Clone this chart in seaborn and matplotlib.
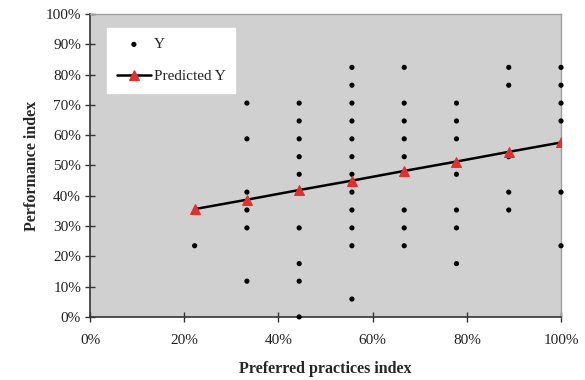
import pandas as pd
import matplotlib
matplotlib.use("Agg")
import matplotlib.pyplot as plt
import seaborn as sns
from matplotlib.ticker import PercentFormatter

# x positions (preferred practices index, %)
x_levels = [22.2, 33.3, 44.4, 55.6, 66.7, 77.8, 88.9, 100.0]

# observed performance index (%) at each x level
y_obs = {
    22.2: [23.5],
    33.3: [70.6, 58.8, 41.2, 35.3, 29.4, 11.8],
    44.4: [70.6, 64.7, 58.8, 52.9, 47.1, 41.2, 29.4, 17.6, 11.8, 0.0],
    55.6: [82.4, 76.5, 70.6, 64.7, 58.8, 52.9, 47.1, 41.2, 35.3, 29.4, 23.5, 5.9],
    66.7: [82.4, 70.6, 64.7, 58.8, 52.9, 47.1, 35.3, 29.4, 23.5],
    77.8: [70.6, 64.7, 58.8, 47.1, 35.3, 29.4, 17.6],
    88.9: [82.4, 76.5, 52.9, 41.2, 35.3],
    100.0: [82.4, 76.5, 70.6, 64.7, 41.2, 23.5],
}

# predicted performance index (%)
y_pred = [35.6, 38.7, 41.9, 45.0, 48.2, 51.3, 54.5, 57.6]

obs_df = pd.DataFrame(
    [(x, y) for x in x_levels for y in y_obs[x]], columns=["x", "y"]
)
pred_df = pd.DataFrame({"x": x_levels, "y": y_pred})

sns.set_style("white")
plt.rcParams["font.family"] = ["Liberation Serif", "DejaVu Serif"]

fig = plt.figure(figsize=(5.85, 3.8), dpi=100)
ax = fig.add_axes([0.154, 0.166, 0.805, 0.797])
ax.set_facecolor("#d0d0d0")

sns.scatterplot(data=obs_df, x="x", y="y", ax=ax, color="black", s=14,
                edgecolor="none", label="Y", clip_on=False, zorder=3)
sns.lineplot(data=pred_df, x="x", y="y", ax=ax, color="black", linewidth=1.8,
             marker="^", markersize=6.5, markerfacecolor="#e03030",
             markeredgecolor="#e03030", label="Predicted Y", zorder=4)

ax.set_xlim(0, 100)
ax.set_ylim(0, 100)
ax.set_xticks(range(0, 101, 20))
ax.set_yticks(range(0, 101, 10))
ax.xaxis.set_major_formatter(PercentFormatter(decimals=0))
ax.yaxis.set_major_formatter(PercentFormatter(decimals=0))
ax.tick_params(axis="both", direction="inout", length=7, width=1,
               color="#333333", labelsize=11, labelcolor="#222222",
               bottom=True, left=True)
ax.tick_params(axis="x", pad=9)
ax.tick_params(axis="y", pad=3)

for side in ["left", "bottom"]:
    ax.spines[side].set_color("#333333")
    ax.spines[side].set_linewidth(1.2)
for side in ["top", "right"]:
    ax.spines[side].set_color("#a0a0a0")
    ax.spines[side].set_linewidth(1.0)

ax.set_xlabel("Preferred practices index", fontsize=11.5, fontweight="bold",
              labelpad=10)
ax.set_ylabel("Performance index", fontsize=11.5, fontweight="bold",
              labelpad=4)

leg = ax.legend(loc="upper left", bbox_to_anchor=(0.02, 0.98), frameon=True,
                fancybox=False, fontsize=11, handlelength=2.2,
                borderpad=0.65, labelspacing=1.2, handletextpad=0.2)
leg.get_frame().set_facecolor("white")
leg.get_frame().set_edgecolor("white")
leg.get_frame().set_alpha(1)

fig.savefig("out.png", dpi=100)
